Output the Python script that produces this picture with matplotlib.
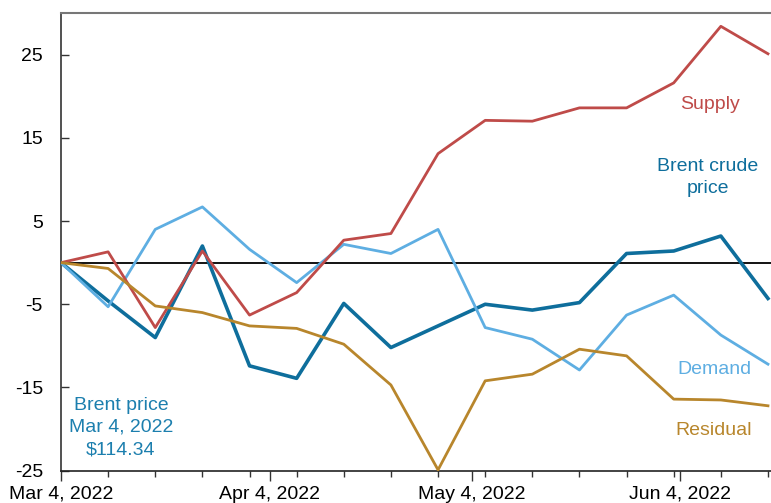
import matplotlib
matplotlib.use("Agg")
import matplotlib.pyplot as plt
import matplotlib.dates as mdates
import numpy as np
import pandas as pd

plt.rcParams['font.family'] = ['Liberation Sans', 'DejaVu Sans']

dates = pd.date_range("2022-03-04", periods=16, freq="7D")
supply = [0, 1.3, -7.8, 1.4, -6.3, -3.6, 2.7, 3.5, 13.1, 17.1, 17.0, 18.6, 18.6, 21.6, 28.4, 25.1]
brent = [0, -4.6, -9.0, 2.0, -12.4, -13.9, -4.9, -10.2, -7.6, -5.0, -5.7, -4.8, 1.1, 1.4, 3.2, -4.3]
demand = [0, -5.3, 4.0, 6.7, 1.6, -2.4, 2.2, 1.1, 4.0, -7.8, -9.2, -12.9, -6.3, -3.9, -8.7, -12.2]
residual = [0, -0.7, -5.2, -6.0, -7.6, -7.9, -9.8, -14.7, -24.9, -14.2, -13.4, -10.4, -11.2, -16.4, -16.5, -17.2]

major_ticks = pd.to_datetime(["2022-03-04", "2022-04-04", "2022-05-04", "2022-06-04"])
major_labels = ["Mar 4, 2022", "Apr 4, 2022", "May 4, 2022", "Jun 4, 2022"]
yticks = [-25, -15, -5, 5, 15, 25]

c_supply = "#BF4B49"
c_brent = "#0E6E9C"
c_demand = "#5EAEE2"
c_resid = "#B8862C"
c_note = "#1C7FAE"

fig = plt.figure(figsize=(7.71, 5.03), dpi=100)
ax = fig.add_axes([61/771, 32.3/503, 710/771, 457.7/503])

ax.axhline(0, color="black", lw=1.3, zorder=1)
ax.plot(dates, brent, color=c_brent, lw=2.6, zorder=3)
ax.plot(dates, demand, color=c_demand, lw=2.0, zorder=3)
ax.plot(dates, supply, color=c_supply, lw=2.0, zorder=4)
ax.plot(dates, residual, color=c_resid, lw=2.0, zorder=4)

x0 = mdates.date2num(dates[0])
x1 = mdates.date2num(dates[-1]) + 0.45
ax.set_xlim(x0, x1)
ax.set_ylim(-25, 30)

ax.set_yticks(yticks)
ax.set_yticklabels([str(v) for v in yticks])
ax.tick_params(axis='y', direction='in', length=6, width=1, pad=13, labelsize=14, colors='#333333', labelcolor='black')

ax.set_xticks(mdates.date2num(major_ticks))
ax.set_xticklabels(major_labels)
ax.set_xticks(mdates.date2num(dates), minor=True)
ax.tick_params(axis='x', which='major', direction='out', length=7, width=1, pad=4, labelsize=14, colors='#333333', labelcolor='black')
ax.tick_params(axis='x', which='minor', direction='out', length=4, width=1, colors='#333333')

ax.spines['right'].set_visible(False)
ax.spines['top'].set_color('#777777')
ax.spines['top'].set_linewidth(1.5)
ax.spines['left'].set_color('#333333')
ax.spines['left'].set_linewidth(1.2)
ax.spines['bottom'].set_color('#222222')
ax.spines['bottom'].set_linewidth(1.2)

def dx(days):
    return x0 + days

ax.text(dx(96.4), 19.0, "Supply", color=c_supply, fontsize=14, ha='center', va='center')
ax.text(dx(96.1), 10.2, "Brent crude\nprice", color=c_brent, fontsize=14, ha='center', va='center', linespacing=1.4)
ax.text(dx(97.1), -12.8, "Demand", color=c_demand, fontsize=14, ha='center', va='center')
ax.text(dx(96.9), -20.2, "Residual", color=c_resid, fontsize=14, ha='center', va='center')
ax.text(dx(8.9), -19.8, "Brent price\nMar 4, 2022\n$114.34", color=c_note, fontsize=14, ha='center', va='center', linespacing=1.4)

fig.savefig("out.png", dpi=100)
